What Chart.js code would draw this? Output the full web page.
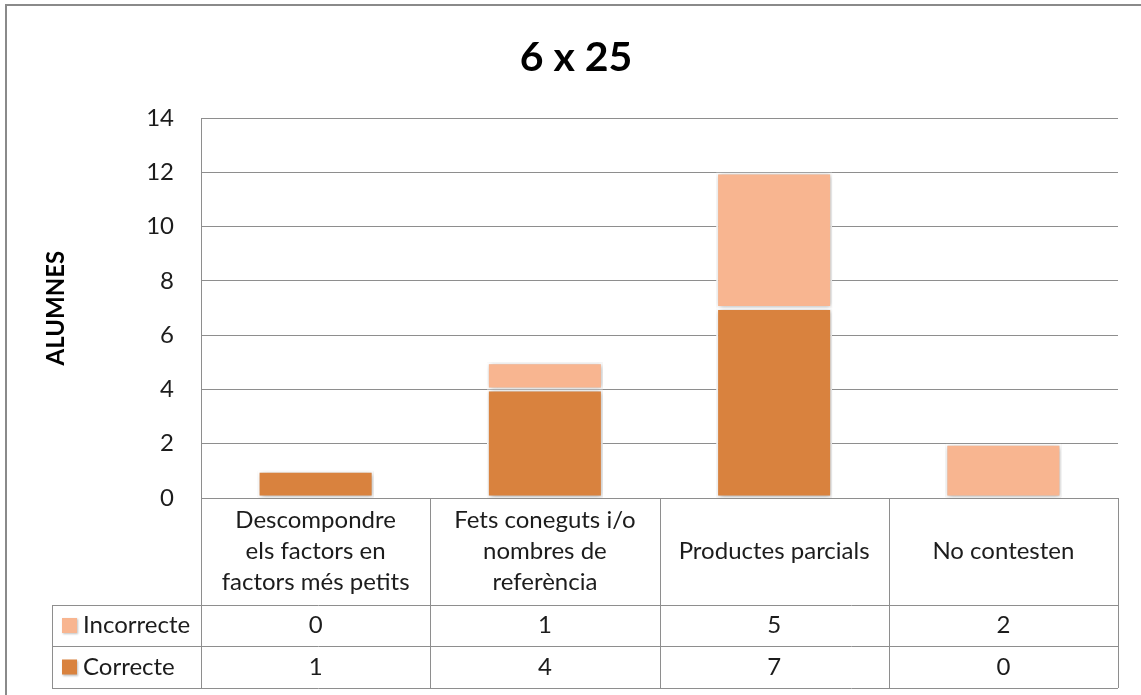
<!DOCTYPE html>
<html>
<head>
<meta charset="utf-8">
<title>6 x 25</title>
<script src="https://cdn.jsdelivr.net/npm/chart.js@4/dist/chart.umd.min.js"></script>
<style>
  html, body { margin: 0; padding: 0; background: #ffffff; }
  #wrap { width: 1141px; height: 695px; position: relative; }
</style>
</head>
<body>
<div id="wrap"><canvas id="chart" width="1141" height="695"></canvas></div>
<script>
// Strategy categories (multi-line labels as they appear in the table header row)
const categories = [
  ['Descompondre', 'els factors en', 'factors més petits'],
  ['Fets coneguts i/o', 'nombres de', 'referència'],
  'Productes parcials',
  'No contesten'
];
const correcte = [1, 4, 7, 0];
const incorrecte = [0, 1, 5, 2];
const seriesNames = ['Correcte', 'Incorrecte'];
const yTicks = [0, 2, 4, 6, 8, 10, 12, 14];
const chartTitle = '6 x 25';
const axisTitle = 'ALUMNES';

const COLOR_CORRECTE = '#D9823E';
const COLOR_INCORRECTE = '#F8B590';
const LINE = '#8e8e8e';
const TEXT = '#1c1c1c';
const FONT = 'Lato, "Open Sans", sans-serif';
const TEXT_SIZE = 24;

// Frame line around the chart object (top and left edges are inside the canvas)
const framePlugin = {
  id: 'frame',
  beforeDraw(chart) {
    const ctx = chart.ctx;
    ctx.save();
    ctx.strokeStyle = '#8a8a8a';
    ctx.lineWidth = 2;
    ctx.beginPath();
    ctx.moveTo(6, chart.height + 5);
    ctx.lineTo(6, 5);
    ctx.lineTo(chart.width + 5, 5);
    ctx.stroke();
    ctx.restore();
  }
};

// Soft drop shadow under the bars
const shadowPlugin = {
  id: 'barShadow',
  beforeDatasetDraw(chart) {
    const ctx = chart.ctx;
    ctx.save();
    ctx.shadowColor = 'rgba(0,0,0,0.32)';
    ctx.shadowBlur = 5;
    ctx.shadowOffsetX = 1;
    ctx.shadowOffsetY = 1;
  },
  afterDatasetDraw(chart) {
    chart.ctx.restore();
  }
};

// Data table under the plot: category header row plus one row per series
const tablePlugin = {
  id: 'dataTable',
  afterDraw(chart) {
    const ctx = chart.ctx;
    const area = chart.chartArea;
    const xs = chart.scales.x;
    const n = chart.data.labels.length;
    const colW = (area.right - area.left) / n;
    const legendLeft = 52;
    const headerBottom = area.bottom + 107;
    const rowH = [41, 42];
    const rows = [chart.data.datasets[1], chart.data.datasets[0]];
    const rowTops = [headerBottom, headerBottom + rowH[0]];
    const tableBottom = headerBottom + rowH[0] + rowH[1];

    ctx.save();
    ctx.strokeStyle = LINE;
    ctx.lineWidth = 1;
    const hline = (x1, x2, y) => { ctx.beginPath(); ctx.moveTo(x1, Math.round(y) + 0.5); ctx.lineTo(x2, Math.round(y) + 0.5); ctx.stroke(); };
    const vline = (x, y1, y2) => { ctx.beginPath(); ctx.moveTo(Math.round(x) + 0.5, y1); ctx.lineTo(Math.round(x) + 0.5, y2); ctx.stroke(); };

    hline(area.left, area.right, area.bottom);
    hline(legendLeft, area.right, headerBottom);
    hline(legendLeft, area.right, rowTops[1]);
    hline(legendLeft, area.right, tableBottom);
    for (let i = 0; i <= n; i++) {
      vline(area.left + i * colW, area.bottom, tableBottom);
    }
    vline(legendLeft, headerBottom, tableBottom);

    ctx.fillStyle = TEXT;
    ctx.font = TEXT_SIZE + 'px ' + FONT;
    ctx.textAlign = 'center';
    ctx.textBaseline = 'middle';
    const lineH = 31;
    const headerMid = (area.bottom + headerBottom) / 2;
    chart.data.labels.forEach((lab, i) => {
      const lines = Array.isArray(lab) ? lab : [lab];
      const cx = xs.getPixelForValue(i);
      const y0 = headerMid - (lines.length - 1) * lineH / 2;
      lines.forEach((t, k) => ctx.fillText(t, cx, y0 + k * lineH));
    });

    rows.forEach((ds, r) => {
      const cy = rowTops[r] + rowH[r] / 2;
      // legend key
      ctx.save();
      ctx.shadowColor = 'rgba(0,0,0,0.25)';
      ctx.shadowBlur = 2;
      ctx.shadowOffsetX = 1;
      ctx.shadowOffsetY = 1;
      ctx.fillStyle = ds.backgroundColor;
      ctx.fillRect(62, cy - 7.5, 15, 15);
      ctx.restore();
      ctx.fillStyle = TEXT;
      ctx.textAlign = 'left';
      ctx.fillText(ds.label, 83, cy);
      ctx.textAlign = 'center';
      ds.data.forEach((v, i) => ctx.fillText(String(v), xs.getPixelForValue(i), cy));
    });
    ctx.restore();
  }
};

new Chart(document.getElementById('chart'), {
  type: 'bar',
  data: {
    labels: categories,
    datasets: [
      { label: seriesNames[0], data: correcte, backgroundColor: COLOR_CORRECTE },
      { label: seriesNames[1], data: incorrecte, backgroundColor: COLOR_INCORRECTE }
    ]
  },
  options: {
    responsive: false,
    animation: false,
    devicePixelRatio: 1,
    layout: { padding: { left: 34, right: 23, top: 0, bottom: 197 } },
    datasets: {
      bar: {
        barPercentage: 0.506,
        categoryPercentage: 1,
        borderColor: '#ffffff',
        borderWidth: 2,
        borderSkipped: false
      }
    },
    plugins: {
      legend: { display: false },
      tooltip: { enabled: false },
      title: {
        display: true,
        text: chartTitle,
        color: '#000000',
        font: { family: FONT, size: 41, weight: 'bold', lineHeight: 1.2 },
        padding: { top: 33, bottom: 36 }
      }
    },
    scales: {
      x: {
        stacked: true,
        display: false
      },
      y: {
        stacked: true,
        min: 0,
        max: 14,
        afterBuildTicks(scale) { scale.ticks = yTicks.map(v => ({ value: v })); },
        afterFit(scale) { scale.width = 167; },
        grid: { color: LINE, lineWidth: 1, drawTicks: false },
        border: { display: true, color: LINE, width: 1 },
        ticks: {
          padding: 27,
          color: TEXT,
          font: { family: FONT, size: TEXT_SIZE }
        },
        title: {
          display: true,
          text: axisTitle,
          color: '#000000',
          font: { family: FONT, size: TEXT_SIZE, weight: 'bold', lineHeight: 1.2 },
          padding: { top: 8, bottom: 0 }
        }
      }
    }
  },
  plugins: [framePlugin, shadowPlugin, tablePlugin]
});
</script>
</body>
</html>
